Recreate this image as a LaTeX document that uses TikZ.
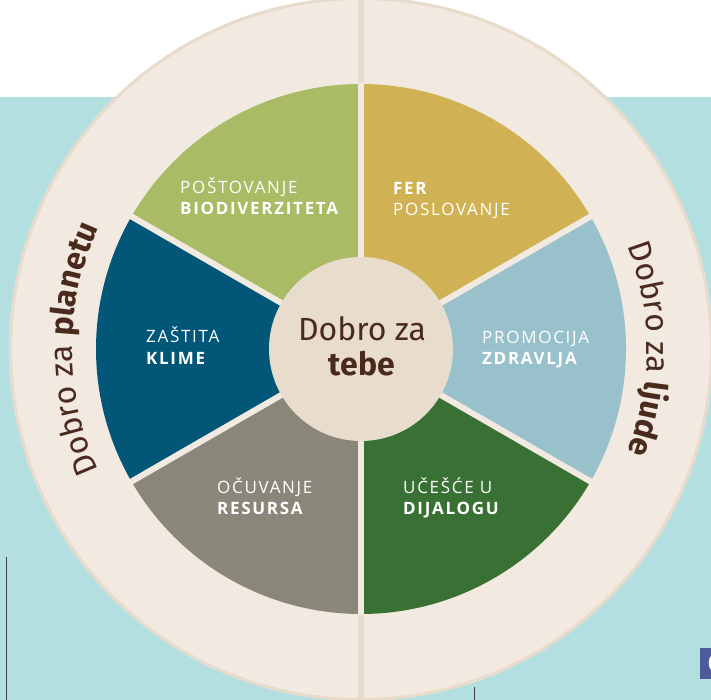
\documentclass[tikz,border=0pt]{standalone}
\usepackage{fontspec}
\setmainfont{Open Sans}
\newfontfamily\fira{Fira Sans}
\newfontfamily\labfont[LetterSpace=10]{Open Sans}
\usetikzlibrary{decorations.text}
\definecolor{bgcyan}{HTML}{B4DFE0}
\definecolor{ringcol}{HTML}{F2E9E0}
\definecolor{ringborder}{HTML}{E7DCCC}
\definecolor{secgreen}{HTML}{A9BB64}
\definecolor{secgold}{HTML}{D0B254}
\definecolor{seclblue}{HTML}{98C1CB}
\definecolor{secdgreen}{HTML}{397033}
\definecolor{secgrey}{HTML}{8A8679}
\definecolor{secdblue}{HTML}{025677}
\definecolor{centrecol}{HTML}{E8DDCD}
\definecolor{txtbrown}{HTML}{4A2A1C}
\definecolor{cboxcol}{HTML}{4E5B9B}
\newcommand\ringreg{\fontsize{32}{32}\selectfont\fira}
\newcommand\ringbold{\fontsize{32}{32}\selectfont\fira\bfseries}
\begin{document}
\begin{tikzpicture}[x=1pt,y=1pt,
  lab/.style={text=white, anchor=base west, inner sep=0, font=\labfont\fontsize{17}{17}\selectfont},
  labb/.style={lab, font=\labfont\bfseries\fontsize{17}{17}\selectfont},
  ctext/.style={text=txtbrown, anchor=base, inner sep=0},
  gap/.style={ringcol, line width=6}]
\clip (0,0) rectangle (711,700);
\fill[white] (0,0) rectangle (711,700);
\fill[bgcyan] (0,0) rectangle (711,603);
% small page elements
\draw[black!75, line width=1] (6,143) -- (6,0);
\draw[black!75, line width=0.8] (474,13) -- (474,0);
\node[fill=cboxcol, text=white, anchor=south west, inner sep=0, minimum height=31, minimum width=30,
      font=\bfseries\fontsize{26}{26}\selectfont] (cbox) at (700,21) {\hspace*{1pt}C\hfill};
\coordinate (C) at (361,351);
% outer ring
\fill[ringcol] (C) circle (352);
\draw[ringborder, line width=3] (C) circle (350.5);
\draw[ringborder, line width=6] (C) ++(0,260) -- ++(0,92);
\draw[ringborder, line width=6] (C) ++(0,-260) -- ++(0,-92);
% sectors
\fill[secgold]   (C) -- ++(30:265)  arc (30:90:265)   -- cycle;
\fill[secgreen]  (C) -- ++(90:265)  arc (90:150:265)  -- cycle;
\fill[secdblue]  (C) -- ++(150:265) arc (150:210:265) -- cycle;
\fill[secgrey]   (C) -- ++(210:265) arc (210:270:265) -- cycle;
\fill[secdgreen] (C) -- ++(270:265) arc (270:330:265) -- cycle;
\fill[seclblue]  (C) -- ++(330:265) arc (330:390:265) -- cycle;
\foreach \a in {30,90,150,210,270,330} \draw[gap] (C) -- ++(\a:266);
% centre
\node[circle, fill=centrecol, minimum size=184, inner sep=0] (centre) at (C) {};
\node[ctext, font=\fira\fontsize{32}{32}\selectfont] (c1) at (362,359) {Dobro za};
\node[ctext, font=\fira\bfseries\fontsize{32}{32}\selectfont] (c2) at (362,324) {tebe};
% sector labels
\node[lab]  (l1a) at (180,506) {POŠTOVANJE};
\node[labb] (l1b) at (180,485) {BIODIVERZITETA};
\node[labb] (l2a) at (393,505) {FER};
\node[lab]  (l2b) at (393,484) {POSLOVANJE};
\node[lab]  (l3a) at (146,357) {ZAŠTITA};
\node[labb] (l3b) at (146,335) {KLIME};
\node[lab]  (l4a) at (482,356) {PROMOCIJA};
\node[labb] (l4b) at (482,335) {ZDRAVLJA};
\node[lab]  (l5a) at (217,206) {OČUVANJE};
\node[labb] (l5b) at (217,185) {RESURSA};
\node[lab]  (l6a) at (403,206) {UČEŠĆE U};
\node[labb] (l6b) at (403,185) {DIJALOGU};
% ring texts
\path[decorate, decoration={text along path, text color=txtbrown, text align=center,
   text={|\ringreg|Dobro za |\ringbold|planetu}}]
   (C) ++(210:289) arc (210:150:289);
\path[decorate, decoration={text along path, text color=txtbrown, text align=center,
   text={|\ringreg|Dobro za |\ringbold|ljude}}]
   (C) ++(30:286) arc (30:-30:286);
\end{tikzpicture}
\end{document}
